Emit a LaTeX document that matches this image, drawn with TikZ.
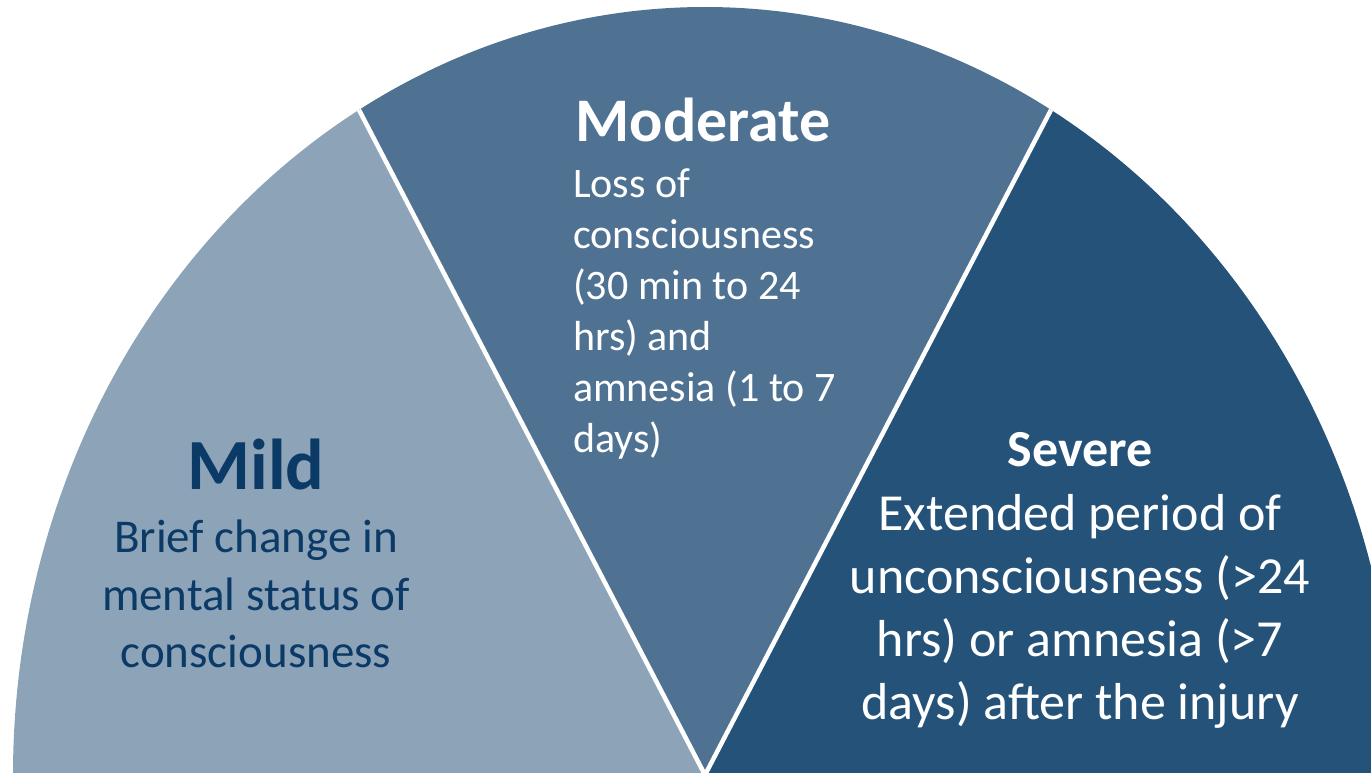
\documentclass[tikz,border=0pt]{standalone}
\usepackage{fontspec}
\setmainfont{Carlito}
\usetikzlibrary{calc}
\definecolor{mildc}{HTML}{8CA3B8}
\definecolor{modc}{HTML}{4F7293}
\definecolor{sevc}{HTML}{255279}
\definecolor{mildtxt}{HTML}{0B3A67}
\tikzset{
  sector/.style={draw=none},
  divider/.style={draw=white, line width=4.5pt},
  title/.style={inner sep=0pt, font=\bfseries},
  body/.style={inner sep=0pt},
}
\begin{document}
\begin{tikzpicture}[x=1pt,y=1pt]
\useasboundingbox (0,0) rectangle (1371,773);
\clip (0,0) rectangle (1371,773);
\coordinate (C) at (705,-2);
\coordinate (p60) at ($(C)+(60:692pt and 768pt)$);
\coordinate (p120) at ($(C)+(120:692pt and 768pt)$);
\fill[mildc, sector] (C) -- ($(C)+(180:692pt and 768pt)$) arc[start angle=180, end angle=120, x radius=692pt, y radius=768pt] -- cycle;
\fill[modc, sector] (C) -- (p120) arc[start angle=120, end angle=60, x radius=692pt, y radius=768pt] -- cycle;
\fill[sevc, sector] (C) -- (p60) arc[start angle=60, end angle=-2, x radius=692pt, y radius=768pt] -- cycle;
\draw[divider] (p120) -- (C) -- (p60);
% Mild
\node[title, anchor=base, text=mildtxt, font=\bfseries\fontsize{72}{86}\selectfont] (mildt) at (256,283) {Mild};
\node[body, anchor=base, align=center, text=mildtxt, font=\fontsize{47}{57.5}\selectfont] (mildb) at (256,105) {Brief change in\\mental status of\\consciousness};
% Moderate
\node[title, anchor=base, text=white, font=\bfseries\fontsize{62}{75}\selectfont] (modt) at (703,631) {Moderate};
\node[body, anchor=base west, align=left, text=white, font=\fontsize{42}{51}\selectfont] (modb) at (573,320) {Loss of\\consciousness\\(30 min to 24\\hrs) and\\amnesia (1 to 7\\days)};
% Severe
\node[title, anchor=base, text=white, font=\bfseries\fontsize{52}{63.5}\selectfont] (sevt) at (1080,306) {Severe};
\node[body, anchor=base, align=center, text=white, font=\fontsize{52}{63.3}\selectfont] (sevb) at (1080,53) {Extended period of\\unconsciousness (>24\\hrs) or amnesia (>7\\days) after the injury};
\end{tikzpicture}
\end{document}
